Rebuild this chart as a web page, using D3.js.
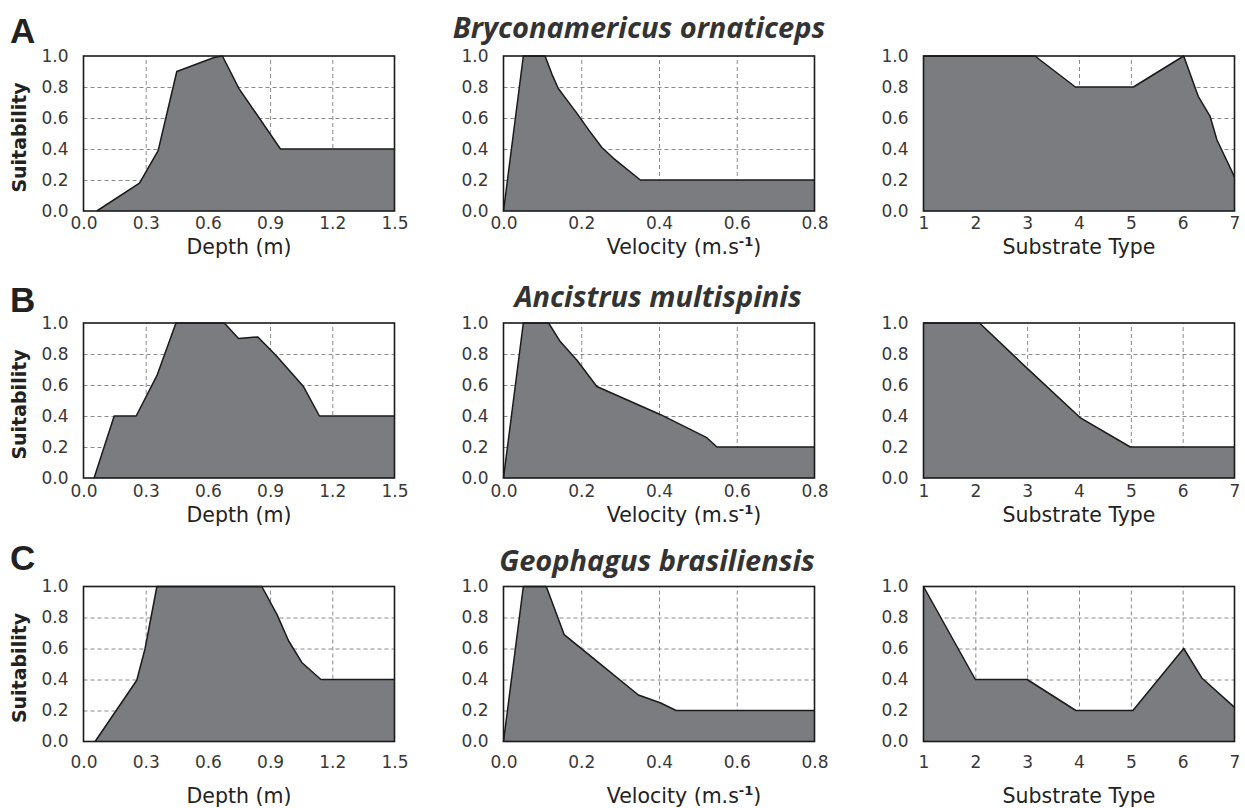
<!DOCTYPE html>
<html>
<head>
<meta charset="utf-8">
<script src="https://cdn.jsdelivr.net/npm/d3@7"></script>
<style>
  body { margin: 0; background: #fff; }
  .tick text { font-family: "DejaVu Sans", sans-serif; font-size: 17px; fill: #383838; }
  .grid line { stroke: #8a8a8a; stroke-width: 1; stroke-dasharray: 4,3; }
  .grid path { display: none; }
</style>
</head>
<body>
<div id="chart"></div>
<script>
(function() {
  var width = 1245, height = 808;

  // species titles and panel letters
  var species = ["Bryconamericus ornaticeps", "Ancistrus multispinis", "Geophagus brasiliensis"];
  var letters = ["A", "B", "C"];

  // tick values for each variable
  var depthTicks = [0.0, 0.3, 0.6, 0.9, 1.2, 1.5];
  var velocityTicks = [0.0, 0.2, 0.4, 0.6, 0.8];
  var substrateTicks = [1, 2, 3, 4, 5, 6, 7];
  var suitTicks = [0.0, 0.2, 0.4, 0.6, 0.8, 1.0];

  // suitability curves [x, suitability]
  var depthA = [[0.064,0],[0.27,0.18],[0.36,0.39],[0.45,0.9],[0.63,0.99],[0.67,1.0],[0.75,0.79],[0.95,0.4],[1.5,0.4]];
  var velocityA = [[0,0],[0.051,1],[0.107,1],[0.125,0.88],[0.141,0.79],[0.159,0.73],[0.189,0.63],[0.22,0.52],[0.253,0.41],[0.283,0.34],[0.352,0.2],[0.8,0.2]];
  var substrateA = [[1,1],[3.15,1],[3.93,0.8],[5.05,0.8],[6.02,1],[6.3,0.74],[6.53,0.61],[6.66,0.46],[7,0.22]];

  var depthB = [[0.051,0],[0.148,0.4],[0.254,0.4],[0.354,0.66],[0.446,1],[0.679,1],[0.748,0.9],[0.841,0.91],[0.929,0.79],[1.061,0.59],[1.138,0.4],[1.5,0.4]];
  var velocityB = [[0,0],[0.051,1],[0.116,1],[0.146,0.88],[0.189,0.76],[0.24,0.59],[0.403,0.41],[0.523,0.26],[0.549,0.2],[0.8,0.2]];
  var substrateB = [[1,1],[2.08,1],[2.96,0.72],[4.02,0.39],[4.99,0.2],[7,0.2]];

  var depthC = [[0.056,0],[0.257,0.395],[0.297,0.6],[0.354,1],[0.86,1],[0.933,0.82],[0.989,0.65],[1.053,0.51],[1.145,0.4],[1.5,0.4]];
  var velocityC = [[0,0],[0.051,1],[0.11,1],[0.156,0.69],[0.244,0.51],[0.347,0.3],[0.403,0.25],[0.444,0.2],[0.8,0.2]];
  var substrateC = [[1,1],[2,0.4],[3,0.4],[3.94,0.2],[5.04,0.2],[6.02,0.6],[6.37,0.41],[7,0.22]];

  var curves = [
    [depthA, velocityA, substrateA],
    [depthB, velocityB, substrateB],
    [depthC, velocityC, substrateC]
  ];

  var columns = [
    { domain: [0, 1.5], ticks: depthTicks, fmt: d3.format(".1f"), label: "Depth (m)", labelX: 239 },
    { domain: [0, 0.8], ticks: velocityTicks, fmt: d3.format(".1f"), label: "velocity", labelX: 684 },
    { domain: [1, 7], ticks: substrateTicks, fmt: d3.format("d"), label: "Substrate Type", labelX: 1079 }
  ];

  // layout
  var colLeft = [83.5, 503.5, 923.5], plotW = 311;
  var rowTop = [56, 323, 586.5], plotH = 155;
  var tickGap = [22, 23, 30];       // baseline of x tick labels below plot
  var titleGap = [43, 44, 61];      // baseline of x axis title below plot
  var headX = [639, 658, 657], headY = [38, 307, 571];
  var letterY = [43, 312, 570];

  var svg = d3.select("#chart")
    .append("svg")
    .attr("width", width)
    .attr("height", height);

  var yScale = d3.scaleLinear().domain([0, 1]).range([plotH, 0]);

  rowTop.forEach(function(top, r) {

    svg.append("text")
      .attr("x", 10)
      .attr("y", letterY[r])
      .style("font-family", "Liberation Sans, Arial, sans-serif")
      .style("font-weight", "bold")
      .style("font-size", "35px")
      .style("fill", "#222")
      .text(letters[r]);

    svg.append("text")
      .attr("x", headX[r])
      .attr("y", headY[r])
      .attr("text-anchor", "middle")
      .style("font-family", "Open Sans, sans-serif")
      .style("font-weight", "bold")
      .style("font-style", "italic")
      .style("font-size", "29px")
      .style("fill", "#333")
      .text(species[r]);

    svg.append("text")
      .attr("transform", "translate(26," + (top + plotH / 2 + 4) + ") rotate(-90)")
      .attr("text-anchor", "middle")
      .style("font-family", "DejaVu Sans, sans-serif")
      .style("font-weight", "bold")
      .style("font-size", "19px")
      .style("fill", "#222")
      .text("Suitability");

    columns.forEach(function(col, c) {
      var x = d3.scaleLinear().domain(col.domain).range([0, plotW]);
      var g = svg.append("g")
        .attr("transform", "translate(" + colLeft[c] + "," + top + ")");

      // dashed grid
      g.append("g")
        .attr("class", "grid")
        .attr("transform", "translate(0," + plotH + ")")
        .call(d3.axisBottom(x)
          .tickValues(col.ticks.slice(1, -1))
          .tickSize(-plotH)
          .tickFormat(""));

      g.append("g")
        .attr("class", "grid")
        .call(d3.axisLeft(yScale)
          .tickValues(suitTicks.slice(1, -1))
          .tickSize(-plotW)
          .tickFormat(""));

      var data = curves[r][c];
      var area = d3.area()
        .x(function(d) { return x(d[0]); })
        .y0(yScale(0))
        .y1(function(d) { return yScale(d[1]); });
      var line = d3.line()
        .x(function(d) { return x(d[0]); })
        .y(function(d) { return yScale(d[1]); });

      g.append("path")
        .datum(data)
        .attr("d", area)
        .attr("fill", "#7b7c80");

      g.append("path")
        .datum(data)
        .attr("d", line)
        .attr("fill", "none")
        .attr("stroke", "#1a1a1a")
        .attr("stroke-width", 1.5)
        .attr("stroke-linejoin", "round");

      g.append("rect")
        .attr("width", plotW)
        .attr("height", plotH)
        .attr("fill", "none")
        .attr("stroke", "#1a1a1a")
        .attr("stroke-width", 1.6);

      // tick labels
      var xAxis = g.append("g")
        .attr("transform", "translate(0," + plotH + ")")
        .call(d3.axisBottom(x).tickValues(col.ticks).tickFormat(col.fmt).tickSize(0).tickPadding(tickGap[r] - 16));
      xAxis.select(".domain").remove();

      var yAxis = g.append("g")
        .call(d3.axisLeft(yScale).tickValues(suitTicks).tickFormat(d3.format(".1f")).tickSize(0).tickPadding(15));
      yAxis.select(".domain").remove();

      // axis title
      var t = svg.append("text")
        .attr("x", col.labelX)
        .attr("y", top + plotH + titleGap[r])
        .attr("text-anchor", "middle")
        .style("font-family", "DejaVu Sans, sans-serif")
        .style("font-size", "20.5px")
        .style("fill", "#222");
      if (col.label === "velocity") {
        t.append("tspan").text("Velocity (m.s");
        t.append("tspan").attr("dy", -8).style("font-size", "13px").style("font-weight", "bold").text("-1");
        t.append("tspan").attr("dy", 8).text(")");
      } else {
        t.text(col.label);
      }
    });
  });
})();
</script>
</body>
</html>
